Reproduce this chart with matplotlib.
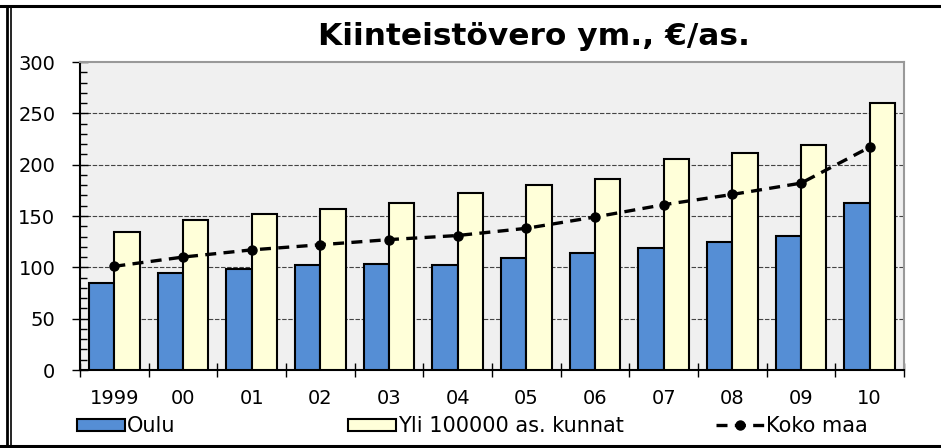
import matplotlib.pyplot as plt
from matplotlib.lines import Line2D
from matplotlib.ticker import MultipleLocator
import numpy as np

plt.rcParams['font.family'] = ['DejaVu Sans']

years = ['1999', '00', '01', '02', '03', '04', '05', '06', '07', '08', '09', '10']
oulu = [85, 94, 98, 102, 103, 102, 109, 114, 119, 125, 131, 163]
yli100k = [134, 146, 152, 157, 163, 172, 180, 186, 206, 211, 219, 260]
koko_maa = [101, 110, 117, 122, 127, 131, 138, 149, 161, 171, 182, 217]

fig = plt.figure(figsize=(9.41, 4.48), dpi=100)
ax = fig.add_axes([80 / 941, 78 / 448, 824 / 941, 308 / 448])
ax.set_facecolor('#f0f0f0')

x = np.arange(len(years))
w = 0.37
b1 = ax.bar(x - w / 2, oulu, w, color='#558ed5', edgecolor='black', linewidth=1.5,
            label='Oulu', zorder=3)
b2 = ax.bar(x + w / 2, yli100k, w, color='#ffffd9', edgecolor='black', linewidth=1.5,
            label='Yli 100000 as. kunnat', zorder=3)
ln, = ax.plot(x, koko_maa, color='black', linestyle=(0, (3.3, 2.2)), linewidth=2.4,
              marker='o', markersize=6.5, label='Koko maa', zorder=4)

ax.set_xlim(-0.5, len(years) - 0.5)
ax.set_ylim(0, 300)
ax.yaxis.set_major_locator(MultipleLocator(50))
ax.yaxis.set_minor_locator(MultipleLocator(10))
ax.set_xticks(x)
ax.set_xticklabels(years)
ax.set_xticks(np.arange(-0.5, len(years), 1), minor=True)
ax.tick_params(axis='x', which='major', length=0, pad=14, labelsize=14)
ax.tick_params(axis='x', which='minor', direction='inout', length=10, width=1)
ax.tick_params(axis='y', which='major', direction='inout', length=11.5, width=1,
               pad=12, labelsize=14)
ax.tick_params(axis='y', which='minor', direction='in', length=5, width=1)

for v in range(50, 300, 50):
    ax.axhline(v, color='#444444', linestyle=(0, (4, 1.5)), linewidth=0.8, zorder=1)

ax.spines['left'].set_color('black')
ax.spines['bottom'].set_color('black')
ax.spines['top'].set_color('#999999')
ax.spines['right'].set_color('#999999')
for s in ax.spines.values():
    s.set_linewidth(1.5)

fig.text(534 / 941, 1 - 45 / 448, 'Kiinteistövero ym., €/as.', ha='center', va='baseline',
         fontsize=22.5, fontweight='bold')

# legend, kolme erillistä kohtaa
for h, lab, xpos in [(b1, 'Oulu', 77), (b2, 'Yli 100000 as. kunnat', 348), (ln, 'Koko maa', 716)]:
    fig.legend([h], [lab], loc='center left', bbox_to_anchor=(xpos / 941, 1 - 426 / 448),
               frameon=False, fontsize=15, handlelength=2.3, handleheight=0.5,
               handletextpad=0.1, borderpad=0, borderaxespad=0, numpoints=1)

# kehys
fig.add_artist(Line2D([0, 1], [1 - 6 / 448, 1 - 6 / 448], color='black', lw=2.2))
fig.add_artist(Line2D([0, 1], [1 - 446 / 448, 1 - 446 / 448], color='black', lw=2.2))
fig.add_artist(Line2D([7 / 941, 7 / 941], [1 - 6 / 448, 1 - 446 / 448], color='black', lw=2))
fig.add_artist(Line2D([10.5 / 941, 10.5 / 941], [1 - 6 / 448, 1 - 446 / 448], color='black', lw=1.2))

fig.savefig('out.png', dpi=100)
